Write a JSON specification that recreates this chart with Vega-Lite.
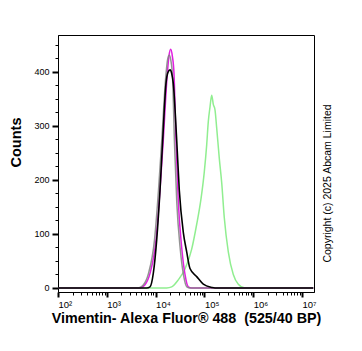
{
  "$schema": "https://vega.github.io/schema/vega-lite/v6.json",
  "width": 256,
  "height": 257,
  "autosize": {"type": "none"},
  "padding": {"left": 58, "top": 35, "right": 48, "bottom": 59},
  "background": "white",
  "config": {
    "view": {"stroke": "#000000", "strokeWidth": 1},
    "axis": {"grid": false, "domainColor": "#000000", "tickColor": "#000000", "labelColor": "#000000", "titleColor": "#000000", "labelFont": "Liberation Sans", "titleFont": "Liberation Sans"}
  },
  "datasets": {
    "curves": [
      {"series": "green", "intensity": 100, "count": 0},
      {"series": "green", "intensity": 16890, "count": 0},
      {"series": "green", "intensity": 21370, "count": 2},
      {"series": "green", "intensity": 29190, "count": 15},
      {"series": "green", "intensity": 40030, "count": 35},
      {"series": "green", "intensity": 54930, "count": 72},
      {"series": "green", "intensity": 69550, "count": 118},
      {"series": "green", "intensity": 85170, "count": 165},
      {"series": "green", "intensity": 99540, "count": 215},
      {"series": "green", "intensity": 111450, "count": 265},
      {"series": "green", "intensity": 120200, "count": 308},
      {"series": "green", "intensity": 130200, "count": 335},
      {"series": "green", "intensity": 141100, "count": 357},
      {"series": "green", "intensity": 152200, "count": 340},
      {"series": "green", "intensity": 164900, "count": 330},
      {"series": "green", "intensity": 178700, "count": 296},
      {"series": "green", "intensity": 202000, "count": 240},
      {"series": "green", "intensity": 226200, "count": 195},
      {"series": "green", "intensity": 255700, "count": 130},
      {"series": "green", "intensity": 308900, "count": 67},
      {"series": "green", "intensity": 391000, "count": 25},
      {"series": "green", "intensity": 495200, "count": 7},
      {"series": "green", "intensity": 679200, "count": 0},
      {"series": "green", "intensity": 17000000, "count": 0},

      {"series": "magenta", "intensity": 100, "count": 0},
      {"series": "magenta", "intensity": 4790, "count": 0},
      {"series": "magenta", "intensity": 6065, "count": 6},
      {"series": "magenta", "intensity": 7680, "count": 27},
      {"series": "magenta", "intensity": 10190, "count": 89},
      {"series": "magenta", "intensity": 12310, "count": 181},
      {"series": "magenta", "intensity": 14380, "count": 274},
      {"series": "magenta", "intensity": 17370, "count": 397},
      {"series": "magenta", "intensity": 18820, "count": 430},
      {"series": "magenta", "intensity": 20390, "count": 442},
      {"series": "magenta", "intensity": 21990, "count": 430},
      {"series": "magenta", "intensity": 23830, "count": 397},
      {"series": "magenta", "intensity": 26180, "count": 272},
      {"series": "magenta", "intensity": 29190, "count": 160},
      {"series": "magenta", "intensity": 34250, "count": 75},
      {"series": "magenta", "intensity": 40030, "count": 25},
      {"series": "magenta", "intensity": 46790, "count": 2},
      {"series": "magenta", "intensity": 54930, "count": 0},
      {"series": "magenta", "intensity": 17000000, "count": 0},

      {"series": "grey", "intensity": 100, "count": 0},
      {"series": "grey", "intensity": 4460, "count": 0},
      {"series": "grey", "intensity": 5650, "count": 6},
      {"series": "grey", "intensity": 7160, "count": 27},
      {"series": "grey", "intensity": 9500, "count": 89},
      {"series": "grey", "intensity": 11470, "count": 181},
      {"series": "grey", "intensity": 13400, "count": 274},
      {"series": "grey", "intensity": 16190, "count": 392},
      {"series": "grey", "intensity": 17540, "count": 422},
      {"series": "grey", "intensity": 19000, "count": 431},
      {"series": "grey", "intensity": 20490, "count": 422},
      {"series": "grey", "intensity": 22210, "count": 392},
      {"series": "grey", "intensity": 24400, "count": 268},
      {"series": "grey", "intensity": 27200, "count": 158},
      {"series": "grey", "intensity": 31920, "count": 73},
      {"series": "grey", "intensity": 37300, "count": 24},
      {"series": "grey", "intensity": 43600, "count": 2},
      {"series": "grey", "intensity": 51200, "count": 0},
      {"series": "grey", "intensity": 17000000, "count": 0},

      {"series": "black", "intensity": 100, "count": 0},
      {"series": "black", "intensity": 6570, "count": 0},
      {"series": "black", "intensity": 7680, "count": 2},
      {"series": "black", "intensity": 8970, "count": 27},
      {"series": "black", "intensity": 10530, "count": 89},
      {"series": "black", "intensity": 12310, "count": 181},
      {"series": "black", "intensity": 13980, "count": 274},
      {"series": "black", "intensity": 16340, "count": 379},
      {"series": "black", "intensity": 17900, "count": 399},
      {"series": "black", "intensity": 19730, "count": 404},
      {"series": "black", "intensity": 21400, "count": 397},
      {"series": "black", "intensity": 23050, "count": 379},
      {"series": "black", "intensity": 27060, "count": 274},
      {"series": "black", "intensity": 30600, "count": 181},
      {"series": "black", "intensity": 36960, "count": 103},
      {"series": "black", "intensity": 43380, "count": 67},
      {"series": "black", "intensity": 50680, "count": 36},
      {"series": "black", "intensity": 69550, "count": 21},
      {"series": "black", "intensity": 94950, "count": 7},
      {"series": "black", "intensity": 141100, "count": 1},
      {"series": "black", "intensity": 164900, "count": 0},
      {"series": "black", "intensity": 17000000, "count": 0}
    ]
  },
  "data": {"name": "curves"},
  "layer": [
    {
      "encoding": {
        "x": {
          "field": "intensity",
          "type": "quantitative",
          "scale": {"type": "log", "domain": [100, 17620000], "nice": false},
          "axis": {
            "values": [100,200,300,400,500,600,700,800,900,1000,2000,3000,4000,5000,6000,7000,8000,9000,10000,20000,30000,40000,50000,60000,70000,80000,90000,100000,200000,300000,400000,500000,600000,700000,800000,900000,1000000,2000000,3000000,4000000,5000000,6000000,7000000,8000000,9000000,10000000],
            "labelExpr": "datum.value === 100 ? '10²' : datum.value === 1000 ? '10³' : datum.value === 10000 ? '10⁴' : datum.value === 100000 ? '10⁵' : datum.value === 1000000 ? '10⁶' : datum.value === 10000000 ? '10⁷' : ''",
            "labelAlign": "left",
            "labelDx": 1,
            "labelFontSize": 9.5,
            "labelPadding": 2,
            "labelFlush": false,
            "labelOverlap": false,
            "tickSize": {"condition": {"test": "indexof([100,1000,10000,100000,1000000,10000000], datum.value) >= 0", "value": 5}, "value": 3},
            "tickWidth": {"condition": {"test": "indexof([100,1000,10000,100000,1000000,10000000], datum.value) >= 0", "value": 2}, "value": 1},
            "domainWidth": 1,
            "title": "Vimentin- Alexa Fluor® 488\u00a0 (525/40 BP)",
            "titleFontSize": 14.3,
            "titleFontWeight": "bold",
            "titlePadding": 3
          }
        },
        "y": {
          "field": "count",
          "type": "quantitative",
          "scale": {"domain": [-7.5, 468.5], "nice": false, "zero": false},
          "axis": {
            "values": [0,25,50,75,100,125,150,175,200,225,250,275,300,325,350,375,400,425,450],
            "labelExpr": "datum.value % 100 === 0 ? datum.label : ''",
            "labelFontSize": 9,
            "labelPadding": 3,
            "labelFlush": false,
            "labelOverlap": false,
            "tickSize": {"condition": {"test": "datum.value % 100 === 0", "value": 6}, "value": 3},
            "tickWidth": {"condition": {"test": "datum.value % 100 === 0", "value": 2}, "value": 1},
            "domainWidth": 1,
            "title": "Counts",
            "titleFontSize": 14.5,
            "titleFontWeight": "bold",
            "titleAngle": 270,
            "titleAlign": "center",
            "titleBaseline": "middle",
            "titleX": -42,
            "titleY": 107
          }
        }
      },
      "layer": [
        {"transform": [{"filter": "datum.series === 'green'"}], "mark": {"type": "line", "interpolate": "monotone", "strokeWidth": 1.5, "color": "#90ee90", "clip": true}},
        {"transform": [{"filter": "datum.series === 'magenta'"}], "mark": {"type": "line", "interpolate": "monotone", "strokeWidth": 1.5, "color": "#e020e0", "clip": true}},
        {"transform": [{"filter": "datum.series === 'grey'"}], "mark": {"type": "line", "interpolate": "monotone", "strokeWidth": 1.5, "color": "#808080", "opacity": 0.85, "clip": true}},
        {"transform": [{"filter": "datum.series === 'black'"}], "mark": {"type": "line", "interpolate": "monotone", "strokeWidth": 1.6, "color": "#000000", "clip": true}}
      ]
    },
    {
      "mark": {"type": "rule", "opacity": 0},
      "encoding": {
        "y": {
          "field": "count",
          "type": "quantitative",
          "axis": {
            "orient": "right",
            "domain": false,
            "ticks": false,
            "labels": false,
            "title": "Copyright (c) 2025 Abcam Limited",
            "titleFontSize": 10.5,
            "titleFontWeight": "normal",
            "titleAngle": 270,
            "titleAlign": "center",
            "titleBaseline": "middle",
            "titleX": 13,
            "titleY": 148
          }
        }
      }
    }
  ],
  "resolve": {"axis": {"y": "independent"}}
}
